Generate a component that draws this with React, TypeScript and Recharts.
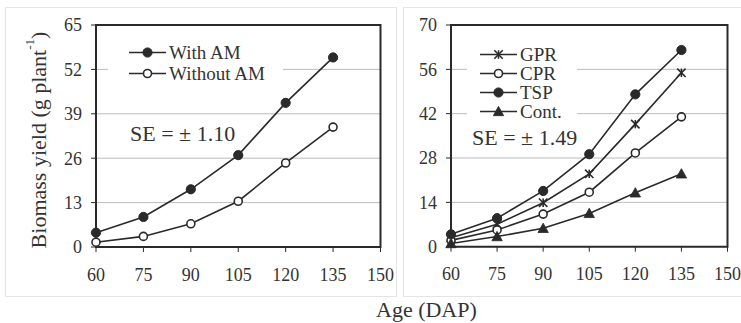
import React from 'react';
import { LineChart, Line, XAxis, YAxis, CartesianGrid, ReferenceArea, Legend } from 'recharts';

const ages = [60, 75, 90, 105, 120, 135];
const withAM = [4.2, 8.8, 16.9, 26.9, 42.2, 55.5];
const withoutAM = [1.4, 3.1, 6.8, 13.4, 24.6, 35.1];
const gpr = [2.8, 7.1, 13.9, 23.0, 38.7, 54.9];
const cpr = [2.0, 5.3, 10.3, 17.2, 29.6, 41.0];
const tsp = [3.9, 9.0, 17.6, 29.2, 48.1, 62.1];
const cont = [1.0, 3.2, 5.8, 10.5, 17.0, 23.0];
const xTicks = [60, 75, 90, 105, 120, 135, 150];
const leftYTicks = [0, 13, 26, 39, 52, 65];
const rightYTicks = [0, 14, 28, 42, 56, 70];
const leftNames = ['With AM', 'Without AM'];
const rightNames = ['GPR', 'CPR', 'TSP', 'Cont.'];

const leftData = ages.map((a, i) => ({ age: a, withAM: withAM[i], withoutAM: withoutAM[i] }));
const rightData = ages.map((a, i) => ({ age: a, gpr: gpr[i], cpr: cpr[i], tsp: tsp[i], cont: cont[i] }));

const INK = '#2a2a2a';
const FONT = 'Liberation Serif, Times New Roman, serif';

type Shape = 'filled' | 'open' | 'star' | 'tri';

function Marker({ cx, cy, shape }: { cx: number; cy: number; shape: Shape }) {
  if (shape === 'filled') return <circle cx={cx} cy={cy} r={4.6} fill={INK} stroke={INK} strokeWidth={1} />;
  if (shape === 'open') return <circle cx={cx} cy={cy} r={4} fill="#fff" stroke={INK} strokeWidth={1.6} />;
  if (shape === 'tri') {
    const s = 5.2;
    return <polygon points={`${cx},${cy - s} ${cx + s},${cy + s * 0.8} ${cx - s},${cy + s * 0.8}`} fill={INK} stroke={INK} strokeWidth={0.8} />;
  }
  const s = 4.2;
  return (
    <g stroke={INK} strokeWidth={1.6}>
      <line x1={cx - s} y1={cy - s} x2={cx + s} y2={cy + s} />
      <line x1={cx - s} y1={cy + s} x2={cx + s} y2={cy - s} />
      <line x1={cx} y1={cy - s} x2={cx} y2={cy + s} />
    </g>
  );
}

const dotFor = (shape: Shape) => (props: any) => (
  <Marker key={`${shape}-${props.index}`} cx={props.cx} cy={props.cy} shape={shape} />
);

const shapeByName: Record<string, Shape> = {
  'With AM': 'filled',
  'Without AM': 'open',
  GPR: 'star',
  CPR: 'open',
  TSP: 'filled',
  'Cont.': 'tri',
};

const makeLegend = (names: string[], rowH: number, width: number, x0: number) => () => (
  <svg width={width} height={names.length * rowH + 4} style={{ display: 'block' }}>
    {names.map((name, i) => {
      const y = i * rowH + rowH / 2 + 2;
      return (
        <g key={name}>
          <line x1={x0} y1={y} x2={x0 + 37} y2={y} stroke={INK} strokeWidth={1.6} />
          <Marker cx={x0 + 18.5} cy={y} shape={shapeByName[name]} />
          <text x={x0 + 40} y={y} dy="0.34em" style={{ fontSize: 19, fontFamily: FONT, fill: '#333' }}>{name}</text>
        </g>
      );
    })}
  </svg>
);

const tickStyle = { fontSize: 18, fill: '#333', style: { fontFamily: FONT } };

export default function App() {
  return (
    <div style={{ position: 'absolute', left: 0, top: 0, width: 741, height: 323, background: '#fff', fontFamily: FONT }}>
      {/* panel frames */}
      <div style={{ position: 'absolute', left: 5, top: 7, width: 392, height: 290, border: '1px solid #e4e4e4', boxSizing: 'border-box' }} />
      <div style={{ position: 'absolute', left: 403, top: 7, width: 345, height: 290, border: '1px solid #e4e4e4', boxSizing: 'border-box' }} />

      {/* left panel */}
      <div style={{ position: 'absolute', left: 0, top: 0, fontFamily: FONT }}>
        <LineChart width={400} height={300} data={leftData} margin={{ top: 25, right: 19.5, bottom: 23, left: 56 }} style={{ fontFamily: FONT }}>
          <CartesianGrid vertical={false} stroke="#bcbcbc" strokeWidth={1} />
          <XAxis
            dataKey="age"
            type="number"
            domain={[60, 150]}
            ticks={xTicks}
            height={30}
            tickSize={5}
            tickMargin={16}
            axisLine={false}
            tickLine={{ stroke: INK }}
            tick={tickStyle}
            interval={0}
          />
          <YAxis
            type="number"
            domain={[0, 65]}
            ticks={leftYTicks}
            width={40}
            tickSize={5}
            tickMargin={9}
            axisLine={false}
            tickLine={{ stroke: INK }}
            tick={tickStyle}
            interval={0}
            label={{
              content: () => (
                <text x={38} y={140} transform="rotate(-90 38 140)" textAnchor="middle" dominantBaseline="central" style={{ fontSize: 22, fontFamily: FONT, fill: '#333' }}>
                  <tspan>Biomass yield (g plant</tspan>
                  <tspan style={{ fontSize: 13 }} dy={-9}>-1</tspan>
                  <tspan dy={9}>)</tspan>
                </text>
              ),
            }}
          />
          <ReferenceArea x1={60} x2={150} y1={0} y2={65} fill="none" stroke={INK} strokeWidth={2} />
          <Legend
            layout="vertical"
            align="center"
            verticalAlign="middle"
            content={makeLegend(leftNames, 21, 175, 21)}
            wrapperStyle={{ left: 108, top: 40, width: 175, height: 46, background: '#fff' }}
          />
          <Line name={leftNames[0]} dataKey="withAM" stroke={INK} strokeWidth={1.6} dot={dotFor('filled')} isAnimationActive={false} />
          <Line name={leftNames[1]} dataKey="withoutAM" stroke={INK} strokeWidth={1.6} dot={dotFor('open')} isAnimationActive={false} />
        </LineChart>
      </div>

      {/* right panel */}
      <div style={{ position: 'absolute', left: 400, top: 0, fontFamily: FONT }}>
        <LineChart width={341} height={300} data={rightData} margin={{ top: 25, right: 13.5, bottom: 23.3, left: 11 }} style={{ fontFamily: FONT }}>
          <CartesianGrid vertical={false} stroke="#bcbcbc" strokeWidth={1} />
          <XAxis
            dataKey="age"
            type="number"
            domain={[60, 150]}
            ticks={xTicks}
            height={30}
            tickSize={5}
            tickMargin={16}
            axisLine={false}
            tickLine={{ stroke: INK }}
            tick={tickStyle}
            interval={0}
          />
          <YAxis
            type="number"
            domain={[0, 70]}
            ticks={rightYTicks}
            width={40}
            tickSize={5}
            tickMargin={9}
            axisLine={false}
            tickLine={{ stroke: INK }}
            tick={tickStyle}
            interval={0}
          />
          <ReferenceArea x1={60} x2={150} y1={0} y2={70} fill="none" stroke={INK} strokeWidth={2} />
          <Legend
            layout="vertical"
            align="center"
            verticalAlign="middle"
            content={makeLegend(rightNames, 19, 110, 13)}
            wrapperStyle={{ left: 67, top: 43, width: 110, height: 80, background: '#fff' }}
          />
          <Line name={rightNames[0]} dataKey="gpr" stroke={INK} strokeWidth={1.6} dot={dotFor('star')} isAnimationActive={false} />
          <Line name={rightNames[1]} dataKey="cpr" stroke={INK} strokeWidth={1.6} dot={dotFor('open')} isAnimationActive={false} />
          <Line name={rightNames[2]} dataKey="tsp" stroke={INK} strokeWidth={1.6} dot={dotFor('filled')} isAnimationActive={false} />
          <Line name={rightNames[3]} dataKey="cont" stroke={INK} strokeWidth={1.6} dot={dotFor('tri')} isAnimationActive={false} />
        </LineChart>
      </div>

      {/* annotations */}
      <div style={{ position: 'absolute', left: 130, top: 121, fontSize: 22, color: '#333', lineHeight: '26px', whiteSpace: 'nowrap' }}>SE = ± 1.10</div>
      <div style={{ position: 'absolute', left: 472, top: 125, fontSize: 22, color: '#333', lineHeight: '26px', whiteSpace: 'nowrap' }}>SE = ± 1.49</div>
      <div style={{ position: 'absolute', left: 376, top: 298, fontSize: 22, color: '#333', lineHeight: '24px', whiteSpace: 'nowrap' }}>Age (DAP)</div>
    </div>
  );
}
